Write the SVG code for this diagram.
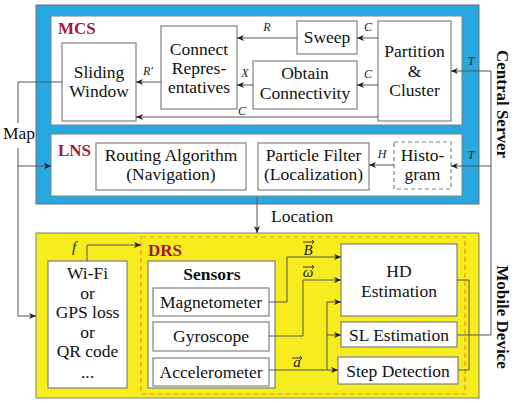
<svg xmlns="http://www.w3.org/2000/svg" width="515" height="403" viewBox="0 0 515 403">
<defs>
<marker id="ah" markerWidth="8" markerHeight="6" refX="7" refY="3" orient="auto" markerUnits="userSpaceOnUse">
<path d="M0,0 L7,3 L0,6 L2,3 Z" fill="#222"/>
</marker>
<style>
.box{fill:#fff;stroke:#808080;stroke-width:1.2}
.t{font-family:"Liberation Serif","Times New Roman",serif;font-size:17.5px;fill:#111;text-anchor:middle}
.lbl{font-family:"Liberation Serif",serif;font-size:12px;font-style:italic;fill:#222;text-anchor:middle}
.vl{font-family:"Liberation Serif",serif;font-size:15px;font-style:italic;fill:#222;text-anchor:middle}
.sec{font-family:"Liberation Serif",serif;font-size:17px;font-weight:bold;fill:#A3173A}
.side{font-family:"Liberation Serif",serif;font-size:17px;font-weight:bold;fill:#111;text-anchor:middle}
.c{fill:none;stroke:#555;stroke-width:1}
.ca{fill:none;stroke:#555;stroke-width:1;marker-end:url(#ah)}
.vec{fill:none;stroke:#222;stroke-width:0.9}
</style>
</defs>
<g id="central-server">
<rect x="36" y="5" width="443" height="199" fill="#27A8E0" stroke="#707070" stroke-width="1"/>
<text class="side" transform="translate(497,104) rotate(90)">Central Server</text>
</g>
<g id="mcs">
<rect x="51" y="16" width="411" height="109" fill="#fff" stroke="#808080" stroke-width="1"/>
<text class="sec" x="58" y="34">MCS</text>
</g>
<g id="lns">
<rect x="51" y="134" width="411" height="62" fill="#fff" stroke="#808080" stroke-width="1"/>
<text class="sec" x="58" y="156">LNS</text>
</g>
<g id="mobile-device">
<rect x="36" y="233" width="443" height="165" fill="#F7EC1E" stroke="#808080" stroke-width="1"/>
<text class="side" transform="translate(497,317) rotate(90)">Mobile Device</text>
</g>
<g id="drs">
<rect x="141" y="237" width="324" height="157" fill="none" stroke="#E8963C" stroke-width="1.2" stroke-dasharray="5,3"/>
<text class="sec" x="148" y="256">DRS</text>
</g>
<g id="sliding-window"><rect class="box" x="62" y="43" width="74" height="78"/><text class="t" x="99" y="78">Sliding</text><text class="t" x="99" y="97">Window</text></g>
<g id="connect-representatives"><rect class="box" x="161" y="26" width="76" height="83"/><text class="t" x="199" y="55">Connect</text><text class="t" x="199" y="74">Repres-</text><text class="t" x="199" y="93">entatives</text></g>
<g id="sweep"><rect class="box" x="297" y="21" width="60" height="33"/><text class="t" x="327" y="43">Sweep</text></g>
<g id="obtain-connectivity"><rect class="box" x="253" y="61" width="104" height="48"/><text class="t" x="305" y="79">Obtain</text><text class="t" x="305" y="99">Connectivity</text></g>
<g id="partition-cluster"><rect class="box" x="378" y="21" width="73" height="100"/><text class="t" x="414.5" y="57">Partition</text><text class="t" x="414.5" y="77">&amp;</text><text class="t" x="414.5" y="96">Cluster</text></g>
<g id="routing-algorithm"><rect class="box" x="96" y="143" width="150" height="47"/><text class="t" x="171" y="161">Routing Algorithm</text><text class="t" x="171" y="180">(Navigation)</text></g>
<g id="particle-filter"><rect class="box" x="258" y="143" width="111" height="47"/><text class="t" x="313.5" y="161">Particle Filter</text><text class="t" x="313.5" y="180">(Localization)</text></g>
<g id="histogram"><rect x="394" y="142" width="57" height="47" fill="#fff" stroke="#808080" stroke-width="1.2" stroke-dasharray="4,3"/><text class="t" x="422.5" y="161">Histo-</text><text class="t" x="422.5" y="180">gram</text></g>
<g id="trigger"><rect class="box" x="48" y="261" width="79" height="127"/><text class="t" x="87.5" y="279">Wi-Fi</text><text class="t" x="87.5" y="298.5">or</text><text class="t" x="87.5" y="318">GPS loss</text><text class="t" x="87.5" y="337.5">or</text><text class="t" x="87.5" y="357">QR code</text><text class="t" x="87.5" y="378">...</text></g>
<g id="sensors"><rect class="box" x="148" y="261" width="127" height="127"/><text class="t" x="212" y="280" font-weight="bold">Sensors</text></g>
<g id="magnetometer"><rect class="box" x="153" y="288" width="116" height="28"/><text class="t" x="211" y="308">Magnetometer</text></g>
<g id="gyroscope"><rect class="box" x="153" y="322" width="116" height="29"/><text class="t" x="211" y="342">Gyroscope</text></g>
<g id="accelerometer"><rect class="box" x="153" y="358" width="116" height="28"/><text class="t" x="211" y="378">Accelerometer</text></g>
<g id="hd-estimation"><rect class="box" x="341" y="244" width="116" height="72"/><text class="t" x="399" y="277">HD</text><text class="t" x="399" y="297">Estimation</text></g>
<g id="sl-estimation"><rect class="box" x="341" y="322" width="116" height="25"/><text class="t" x="399" y="341">SL Estimation</text></g>
<g id="step-detection"><rect class="box" x="338" y="357" width="120" height="27"/><text class="t" x="398" y="377">Step Detection</text></g>
<g id="connectors">
<path class="ca" d="M378,38 H357"/><text class="lbl" x="368" y="31">C</text>
<path class="ca" d="M378,85 H357"/><text class="lbl" x="368" y="78">C</text>
<path class="ca" d="M297,38 H237"/><text class="lbl" x="267" y="31">R</text>
<path class="ca" d="M253,85 H237"/><text class="lbl" x="245" y="77">X</text>
<path class="ca" d="M161,82 H136"/><text class="lbl" x="148" y="75">R′</text>
<path class="ca" d="M378,117 H136"/><text class="lbl" x="242" y="115">C</text>
<path class="ca" d="M394,165 H369"/><text class="lbl" x="382" y="158">H</text>
<path class="c" d="M457,335 H491 V71"/>
<path class="ca" d="M491,71 H451"/><text class="lbl" x="471" y="65">T</text>
<path class="ca" d="M491,166 H451"/><text class="lbl" x="471" y="159">T</text>
<path class="c" d="M62,82 H18 V123"/>
<text x="3" y="139" font-family="Liberation Serif, serif" font-size="17.5" fill="#111">Map</text>
<path class="c" d="M18,148 V316"/>
<path class="ca" d="M18,166 H51"/>
<path class="ca" d="M18,316 H36"/>
<path class="ca" d="M257,197 V233"/>
<text x="271" y="222" font-family="Liberation Serif, serif" font-size="17.5" fill="#111">Location</text>
<path class="ca" d="M87,261 V245 H141"/><text class="vl" x="74" y="252">f</text>
<path class="ca" d="M269,302 H287 V257 H341"/>
<text class="vl" x="308" y="255">B</text><path class="vec" d="M303,242 H314 M312,240 L314,242 L312,244"/>
<path class="ca" d="M269,336 H303 V280 H341"/>
<text class="vl" x="308" y="277">ω</text><path class="vec" d="M303,267 H314 M312,265 L314,267 L312,269"/>
<path class="ca" d="M269,370 H338"/>
<text class="vl" x="297" y="367">a</text><path class="vec" d="M292,358 H302 M300,356 L302,358 L300,360"/>
<path class="ca" d="M327,370 V302 H341"/>
<path class="ca" d="M327,335 H341"/>
<path class="c" d="M457,280 H469 V370 H458"/>
</g>
</svg>
